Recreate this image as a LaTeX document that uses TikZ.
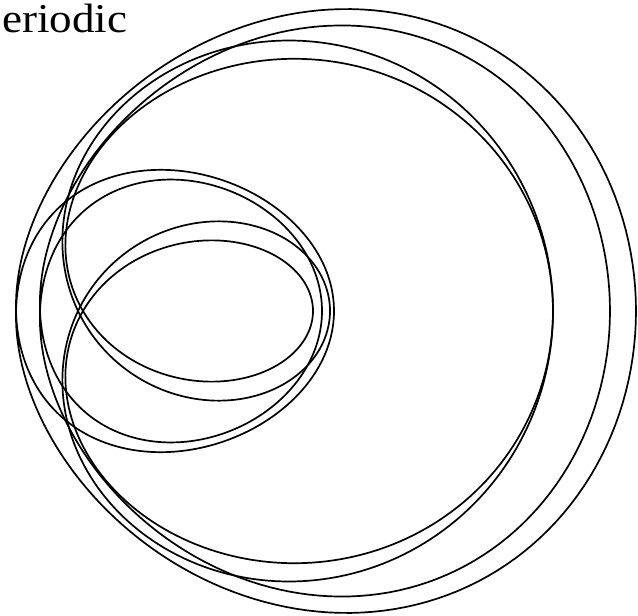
\documentclass[tikz,border=0pt]{standalone}
\usepackage{fontspec}
\setmainfont{Liberation Serif}
\begin{document}
\begin{tikzpicture}[x=1pt,y=-1pt,
  orbit/.style={line width=1.7pt,line join=round},
  word/.style={font=\fontsize{41}{41}\selectfont,inner sep=0pt,text height=28pt,text depth=0pt,anchor=base west}]
\useasboundingbox (0,0) rectangle (638,616);
\node[word,xscale=1.1] (title) at (2,32) {eriodic};
% one turn of the orbit per entry: pole x, b, c, d, m, n
\foreach \px/\qb/\qc/\qd/\qm/\qn in {16/10/469/141/.903/.176, 40/15/426/129/.939/.162,
    78/152.5/363.5/-41/.931/.032, 83/159/350/-39/.851/.062}
  \draw[orbit] plot[domain=0:360,samples=361,variable=\t]
    ({\px+(\qb+\qc*cos(\t)+\qd*cos(\t)^2)*cos(\t)},
     {311+(\qm+\qn*cos(\t))*(\qb+\qc*cos(\t)+\qd*cos(\t)^2)*sin(\t)}) -- cycle;
\end{tikzpicture}
\end{document}
